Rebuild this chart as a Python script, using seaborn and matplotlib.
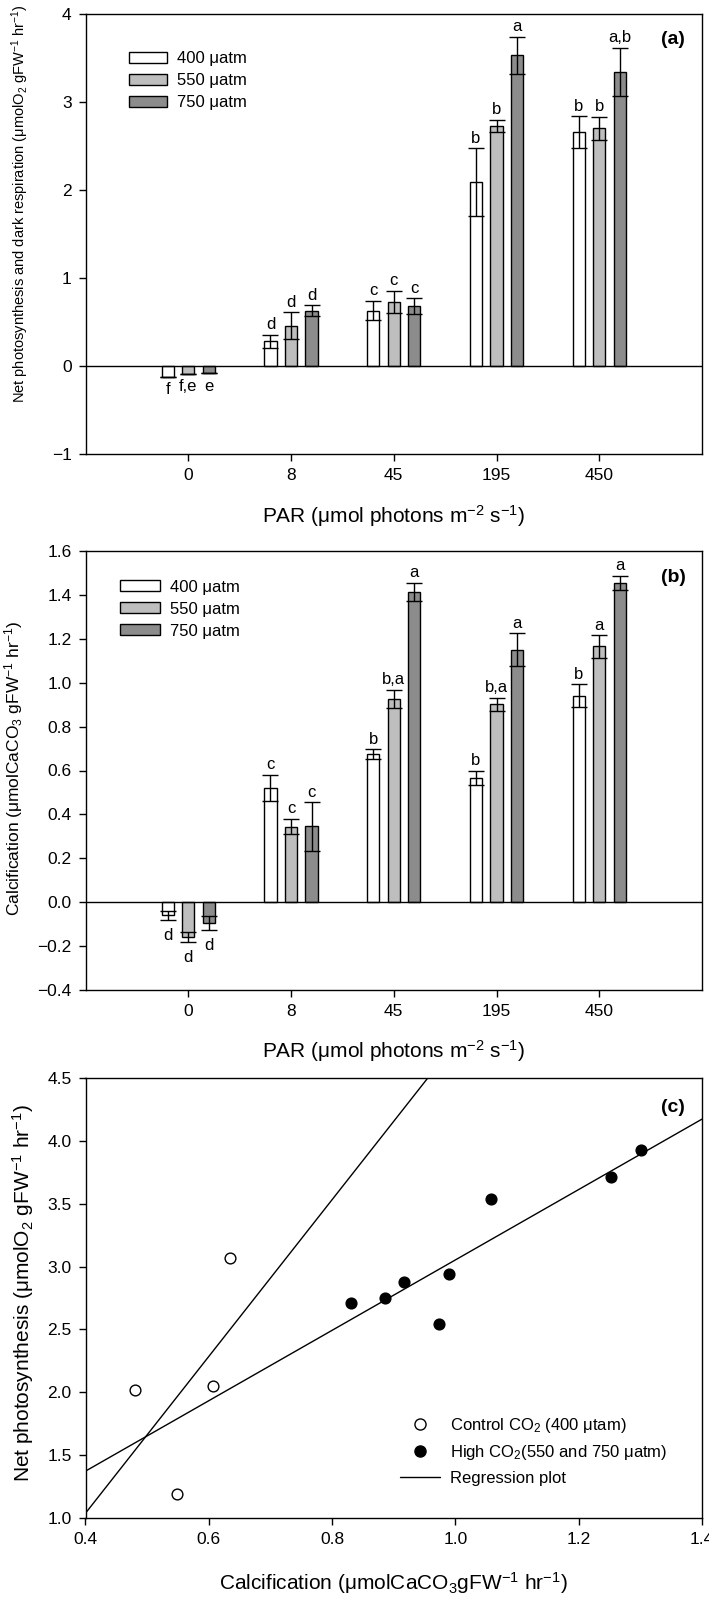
import matplotlib
matplotlib.use("Agg")
import matplotlib.pyplot as plt
from matplotlib.lines import Line2D
import numpy as np
import pandas as pd
import seaborn as sns

# categories
par_labels = ["0", "8", "45", "195", "450"]
co2_labels = ["400 μatm", "550 μatm", "750 μatm"]
bar_colors = ["white", "#bebebe", "#8c8c8c"]

# (a) net photosynthesis and dark respiration, mean and error
photo_400 = [-0.12, 0.28, 0.63, 2.09, 2.66]
photo_550 = [-0.09, 0.46, 0.73, 2.73, 2.70]
photo_750 = [-0.08, 0.63, 0.68, 3.53, 3.34]
photo_err_400 = [0.0, 0.076, 0.11, 0.385, 0.18]
photo_err_550 = [0.0, 0.15, 0.125, 0.07, 0.135]
photo_err_750 = [0.0, 0.06, 0.09, 0.21, 0.275]
photo_let_400 = ["f", "d", "c", "b", "b"]
photo_let_550 = ["f,e", "d", "c", "b", "b"]
photo_let_750 = ["e", "d", "c", "a", "a,b"]

# (b) calcification, mean and error
calc_400 = [-0.06, 0.52, 0.674, 0.566, 0.94]
calc_550 = [-0.157, 0.344, 0.926, 0.902, 1.165]
calc_750 = [-0.094, 0.345, 1.414, 1.151, 1.455]
calc_err_400 = [0.021, 0.06, 0.022, 0.034, 0.052]
calc_err_550 = [0.023, 0.035, 0.043, 0.03, 0.052]
calc_err_750 = [0.033, 0.11, 0.04, 0.075, 0.032]
calc_let_400 = ["d", "c", "b", "b", "b"]
calc_let_550 = ["d", "c", "b,a", "b,a", "a"]
calc_let_750 = ["d", "c", "a", "a", "a"]

# (c) net photosynthesis vs calcification
ctrl_calc = [0.48, 0.548, 0.607, 0.635]
ctrl_photo = [2.02, 1.19, 2.05, 3.07]
high_calc = [0.830, 0.886, 0.917, 0.973, 0.990, 1.057, 1.252, 1.301]
high_photo = [2.71, 2.75, 2.88, 2.54, 2.94, 3.54, 3.71, 3.93]

sns.set_style("ticks", rc={"axes.edgecolor": "black", "xtick.color": "black",
                           "ytick.color": "black", "text.color": "black",
                           "axes.labelcolor": "black"})
plt.rcParams["font.family"] = ["Liberation Sans", "DejaVu Sans"]
plt.rcParams["mathtext.fontset"] = "custom"
plt.rcParams["mathtext.rm"] = "Liberation Sans"
plt.rcParams["mathtext.it"] = "Liberation Sans:italic"
plt.rcParams["mathtext.bf"] = "Liberation Sans:bold"
plt.rcParams["mathtext.default"] = "rm"

W, H = 709, 1597
fig = plt.figure(figsize=(W / 100, H / 100), dpi=100)


def rect(left, top, right, bottom):
    return [left / W, 1 - bottom / H, (right - left) / W, (bottom - top) / H]


def style_axes(ax):
    for s in ax.spines.values():
        s.set_linewidth(1)
        s.set_color("black")
    ax.tick_params(direction="out", length=5, width=1, labelsize=12.5,
                   pad=5, top=False, right=False)


def bar_panel(ax, means, errs, letters, ylim, yticks, fmt, neg_off, leg_pos,
              leg_len, leg_space):
    rows = []
    for co2, m, e, l in zip(co2_labels, means, errs, letters):
        for p, v, ev, lv in zip(par_labels, m, e, l):
            rows.append({"PAR": p, "CO2": co2, "value": v, "err": ev, "letter": lv})
    df = pd.DataFrame(rows)
    sns.barplot(data=df, x="PAR", y="value", hue="CO2", order=par_labels,
                hue_order=co2_labels, palette=bar_colors, edgecolor="black",
                linewidth=1, width=0.6, gap=0.4, errorbar=None, ax=ax,
                zorder=2)
    for cont, co2 in zip(ax.containers, co2_labels):
        sub = df[df["CO2"] == co2].set_index("PAR").loc[par_labels]
        xs = [b.get_x() + b.get_width() / 2 for b in cont.patches]
        ax.errorbar(xs, sub["value"], yerr=sub["err"], fmt="none",
                    ecolor="black", elinewidth=1, capsize=6, capthick=1,
                    zorder=3)
        for x, v, ev, lv in zip(xs, sub["value"], sub["err"], sub["letter"]):
            if v >= 0:
                ax.annotate(lv, (x, v + ev), xytext=(0, 4),
                            textcoords="offset points", ha="center",
                            va="baseline", fontsize=12)
            else:
                ax.annotate(lv, (x, v - ev), xytext=(0, neg_off),
                            textcoords="offset points", ha="center",
                            va="top", fontsize=12)
    ax.axhline(0, color="black", lw=1, zorder=4)
    ax.set_xlim(-1.0, 5.0)
    ax.set_ylim(*ylim)
    ax.set_yticks(yticks)
    ax.set_yticklabels([fmt.format(t).replace("-", "\u2212") for t in yticks])
    handles, labels = ax.get_legend_handles_labels()
    ax.legend(handles, labels, loc="upper left", bbox_to_anchor=leg_pos,
              frameon=False, fontsize=12, handlelength=leg_len,
              handleheight=0.66, labelspacing=leg_space, handletextpad=0.6,
              borderpad=0, borderaxespad=0)
    style_axes(ax)
    ax.set_xlabel("PAR (μmol photons m$^{-2}$ s$^{-1}$)", fontsize=15)
    ax.xaxis.label.set_va("center")
    ax.xaxis.set_label_coords(0.5, -0.14)


# panel (a)
ax_a = fig.add_axes(rect(85.5, 14, 702, 454))
bar_panel(ax_a, [photo_400, photo_550, photo_750],
          [photo_err_400, photo_err_550, photo_err_750],
          [photo_let_400, photo_let_550, photo_let_750],
          (-1, 4), [-1, 0, 1, 2, 3, 4], "{:d}", -4,
          (0.07, 0.915), 2.3, 0.42)
ax_a.set_ylabel("Net photosynthesis and dark respiration (μmolO$_2$ gFW$^{-1}$ hr$^{-1}$)",
                fontsize=10.5)
ax_a.yaxis.set_label_coords(-0.088, 0.57)
ax_a.text(0.953, 0.941, "(a)", transform=ax_a.transAxes, fontsize=14,
          fontweight="bold", ha="center", va="center")

# panel (b)
ax_b = fig.add_axes(rect(85.5, 551, 702, 990))
bar_panel(ax_b, [calc_400, calc_550, calc_750],
          [calc_err_400, calc_err_550, calc_err_750],
          [calc_let_400, calc_let_550, calc_let_750],
          (-0.4, 1.6), list(np.round(np.arange(-0.4, 1.61, 0.2), 1)), "{:.1f}",
          -6, (0.056, 0.935), 2.4, 0.42)
ax_b.set_ylabel("Calcification (μmolCaCO$_3$ gFW$^{-1}$ hr$^{-1}$)", fontsize=12.5)
ax_b.yaxis.set_label_coords(-0.098, 0.506)
ax_b.text(0.953, 0.94, "(b)", transform=ax_b.transAxes, fontsize=14,
          fontweight="bold", ha="center", va="center")

# panel (c)
ax_c = fig.add_axes(rect(85.5, 1078, 702, 1518))
sns.scatterplot(x=ctrl_calc, y=ctrl_photo, marker="o", s=60, color="white",
                edgecolor="black", linewidth=1, ax=ax_c, zorder=3)
sns.scatterplot(x=high_calc, y=high_photo, marker="o", s=60, color="black",
                edgecolor="black", linewidth=1, ax=ax_c, zorder=3)
xs = np.array([0.4, 1.4])
for cx, cy in [(ctrl_calc, ctrl_photo), (high_calc, high_photo)]:
    fit = np.poly1d(np.polyfit(cx, cy, 1))
    ax_c.plot(xs, fit(xs), color="black", lw=1, zorder=2)
ax_c.set_xlim(0.4, 1.4)
ax_c.set_ylim(1.0, 4.5)
ax_c.set_xticks(np.round(np.arange(0.4, 1.41, 0.2), 1))
ax_c.set_xticklabels(["{:.1f}".format(t) for t in np.arange(0.4, 1.41, 0.2)])
ax_c.set_yticks(np.round(np.arange(1.0, 4.51, 0.5), 1))
ax_c.set_yticklabels(["{:.1f}".format(t) for t in np.arange(1.0, 4.51, 0.5)])
style_axes(ax_c)
leg_handles = [
    Line2D([], [], marker="o", ls="none", markerfacecolor="white",
           markeredgecolor="black", markersize=8),
    Line2D([], [], marker="o", ls="none", markerfacecolor="black",
           markeredgecolor="black", markersize=8),
    Line2D([], [], color="black", lw=1),
]
leg_labels = ["Control CO$_2$ (400 μtam)", "High CO$_2$(550 and 750 μatm)",
              "Regression plot"]
ax_c.legend(leg_handles, leg_labels, loc="upper left",
            bbox_to_anchor=(0.51, 0.232), frameon=False, fontsize=12,
            handlelength=2.4, labelspacing=0.5, handletextpad=0.6,
            borderpad=0, borderaxespad=0)
ax_c.set_xlabel("Calcification (μmolCaCO$_3$gFW$^{-1}$ hr$^{-1}$)", fontsize=15)
ax_c.xaxis.label.set_va("center")
ax_c.xaxis.set_label_coords(0.5, -0.148)
ax_c.set_ylabel("Net photosynthesis (μmolO$_2$ gFW$^{-1}$ hr$^{-1}$)", fontsize=15)
ax_c.yaxis.set_label_coords(-0.08, 0.511)
ax_c.text(0.953, 0.934, "(c)", transform=ax_c.transAxes, fontsize=14,
          fontweight="bold", ha="center", va="center")

fig.savefig("out.png", dpi=100)
